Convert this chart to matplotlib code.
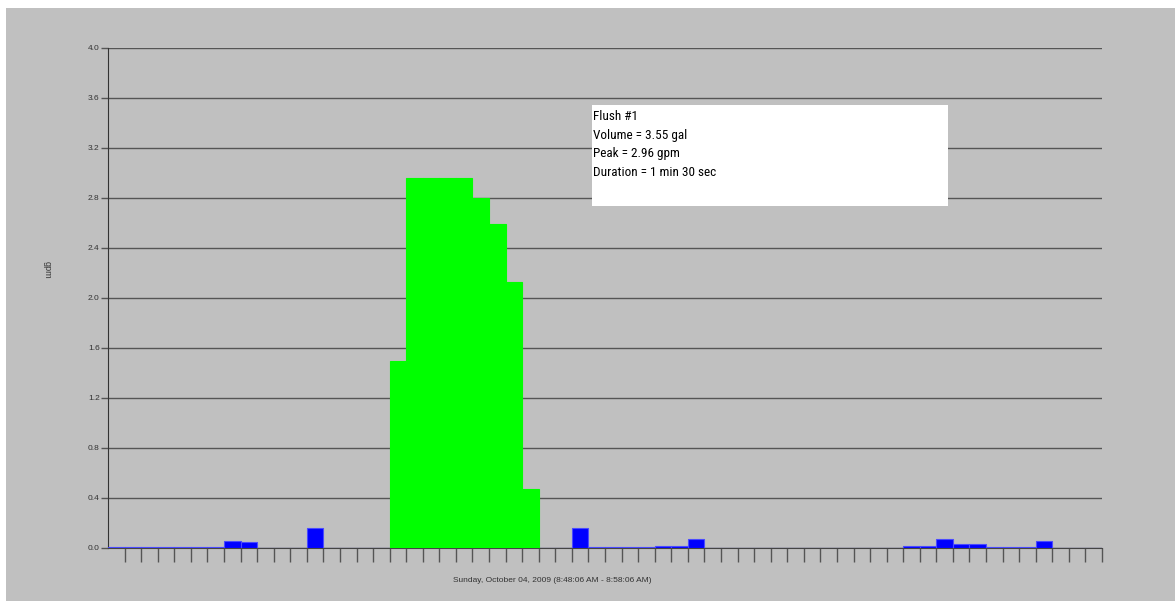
import matplotlib
matplotlib.use("Agg")
import matplotlib.pyplot as plt
from matplotlib import font_manager
import numpy as np
from matplotlib.patches import Rectangle

# 10-second intervals over 10 minutes (gpm)
flow = [0.01, 0.01, 0.01, 0.01, 0.01, 0.01, 0.01, 0.06, 0.05, 0.0,
        0.0, 0.0, 0.16, 0.0, 0.0, 0.0, 0.0, 1.50, 2.96, 2.96,
        2.96, 2.96, 2.80, 2.59, 2.13, 0.47, 0.0, 0.0, 0.16, 0.01,
        0.01, 0.01, 0.01, 0.02, 0.02, 0.07, 0.0, 0.0, 0.0, 0.0,
        0.0, 0.0, 0.0, 0.0, 0.0, 0.0, 0.0, 0.0, 0.02, 0.02,
        0.07, 0.03, 0.03, 0.01, 0.01, 0.01, 0.06, 0.0, 0.0, 0.0]
flush_start, flush_end = 17, 25
y_ticks = [0.0, 0.4, 0.8, 1.2, 1.6, 2.0, 2.4, 2.8, 3.2, 3.6, 4.0]
info_lines = ["Flush #1", "Volume = 3.55 gal", "Peak = 2.96 gpm", "Duration = 1 min 30 sec"]
x_title = "Sunday, October 04, 2009 (8:48:06 AM - 8:58:06 AM)"

plt.rcParams["font.family"] = ["Liberation Sans", "DejaVu Sans"]

# narrow font for the info box if one is installed
box_font, box_size = "DejaVu Sans", 8
for name in ["Liberation Sans Narrow", "DejaVu Sans Condensed", "Roboto Condensed"]:
    try:
        font_manager.findfont(name, fallback_to_default=False)
        box_font, box_size = name, 9.5
        break
    except ValueError:
        pass

W, H = 1175, 601
fig = plt.figure(figsize=(W / 100, H / 100), dpi=100, facecolor="white")
fig.patches.append(Rectangle((6 / W, 0), 1 - 6 / W, 1 - 8 / H, transform=fig.transFigure,
                             facecolor="#c0c0c0", edgecolor="none", zorder=-1))

ax = fig.add_axes([108 / W, 53 / H, 994 / W, 500 / H])
ax.set_facecolor("#c0c0c0")

idx = np.arange(len(flow))
colors = ["#00ff00" if flush_start <= i <= flush_end else "#0000ff" for i in idx]
edges = ["#00ff00" if flush_start <= i <= flush_end else "#4a4aff" for i in idx]
ax.bar(idx, flow, width=1.0, align="edge", color=colors, edgecolor=edges, linewidth=0.8, zorder=3)

ax.set_xlim(0, len(flow))
ax.set_ylim(0, 4.0)
ax.set_yticks(y_ticks)
ax.set_yticklabels([f"{v:.1f}" for v in y_ticks], fontsize=6, color="#333333")
ax.set_xticks(np.arange(1, len(flow) + 1))
ax.set_xticklabels([])
ax.tick_params(axis="x", length=10, width=1, color="#555555", direction="out")
ax.tick_params(axis="y", length=5, width=1, color="#555555", pad=1)
ax.grid(axis="y", color="#555555", linewidth=1, zorder=1)
ax.set_axisbelow(True)
for s in ["top", "right"]:
    ax.spines[s].set_visible(False)
ax.spines["left"].set_color("#333333")
ax.spines["bottom"].set_color("#444444")

fig.text(47 / W, 1 - 270 / H, "gpm", rotation=270, fontsize=6.5, color="#333333",
         ha="center", va="center")
fig.text(552 / W, 1 - 581 / H, x_title, fontsize=6, color="#333333", ha="center", va="center")

# info box
fig.patches.append(Rectangle((592 / W, 1 - 206 / H), 356 / W, 101 / H, transform=fig.transFigure,
                             facecolor="white", edgecolor="none", zorder=5))
for k, line in enumerate(info_lines):
    fig.text(593 / W, 1 - (116 + 19 * k) / H, line, fontsize=box_size,
             family=[box_font, "DejaVu Sans"], color="black",
             ha="left", va="center", zorder=6)

fig.savefig("out.png", dpi=100, facecolor=fig.get_facecolor())
